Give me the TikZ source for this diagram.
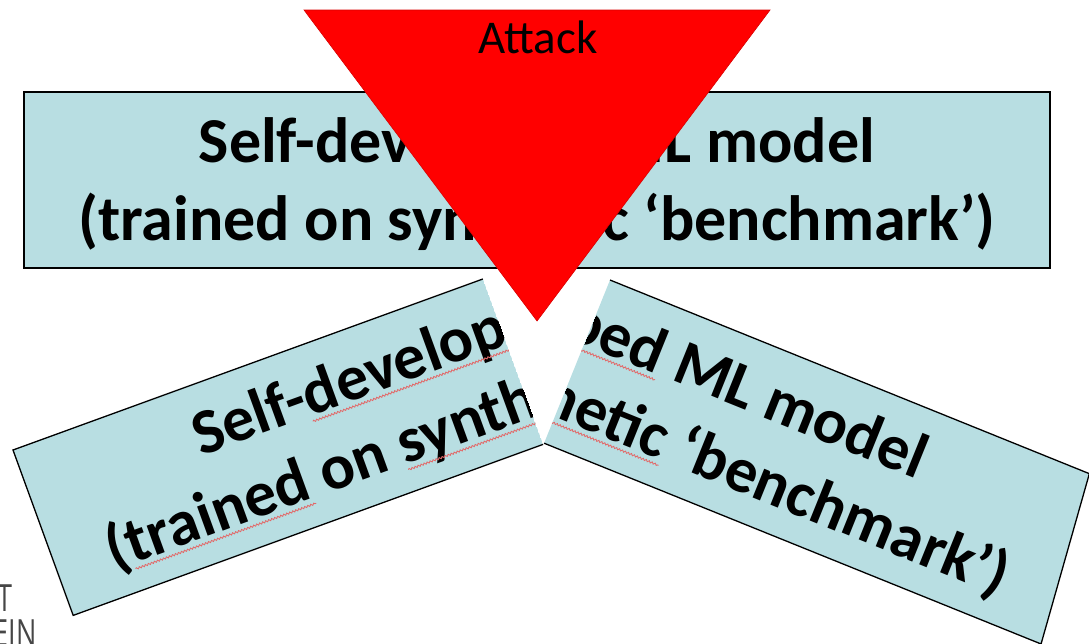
\documentclass[tikz,border=0pt]{standalone}
\usepackage{fontspec}
\newfontfamily\carlito{Carlito}
\newfontfamily\logofont[FakeStretch=0.72]{Open Sans}
\usetikzlibrary{decorations.pathmorphing}

\definecolor{boxblue}{RGB}{184,222,226}
\definecolor{attackred}{RGB}{255,0,0}
\definecolor{spellred}{RGB}{226,104,104}
\definecolor{logogray}{RGB}{70,70,70}

\tikzset{
  modelfill/.style={fill=boxblue},
  boxedge/.style={draw=black, line width=1.3pt, line join=miter},
  boxtext/.style={font=\carlito\bfseries\fontsize{64}{70}\selectfont, inner sep=0pt, anchor=base},
  measure/.style={font=\carlito\bfseries\fontsize{64}{70}\selectfont, inner sep=0pt,
                  anchor=base west, text depth=5.5pt},
  spellmark/.style={draw=spellred, line width=0.85pt, decorate,
                    decoration={snake, amplitude=0.9pt, segment length=3.2pt}},
  attackshape/.style={fill=attackred, draw=attackred!85!black, line width=0.6pt, line join=miter},
  attacklabel/.style={font=\carlito\fontsize{47}{50}\selectfont, inner sep=0pt, anchor=base},
  logo/.style={font=\logofont\fontsize{37.5}{40}\selectfont, text=logogray, inner sep=0pt, anchor=base east}
}

% Caption of the model box, in box coordinates (1026 x 176, y downwards).
% #1 = 1 adds the wavy spelling marks under the flagged words.
\newcommand\modelcaption[1]{%
  \node[boxtext] (lineA) at (513,70) {Self-developed ML model};
  \node[boxtext] (lineB) at (513,148) {(trained on synthetic ‘benchmark’)};
  \ifnum#1=1
    \node[measure] (selfw) at (lineA.base west) {\phantom{Self-}};
    \node[measure] (devw)  at (selfw.base east) {\phantom{developed}};
    \node[measure] (parw)  at (lineB.base west) {\phantom{(}};
    \node[measure] (trw)   at (parw.base east)  {\phantom{trained}};
    \node[measure] (onw)   at (trw.base east)   {\phantom{\ on\ }};
    \node[measure] (synw)  at (onw.base east)   {\phantom{synthetic}};
    \draw[spellmark] (devw.south west) -- (devw.south east);
    \draw[spellmark] (trw.south west) -- (trw.south east);
    \draw[spellmark] (synw.south west) -- (synw.south east);
  \fi
}

\begin{document}
\begin{tikzpicture}[x=1pt, y=-1pt]
\useasboundingbox (0,0) rectangle (1089,643);

% intact model box
\begin{scope}[shift={(24,92)}]
  \path[modelfill, boxedge] (0,0) rectangle (1026,176);
  \modelcaption{0}
\end{scope}

% left fragment of the broken box
\begin{scope}[shift={(13,450)}, rotate=20, transform shape]
  \begin{scope}
    \clip (0,0) rectangle (500,176);
    \fill[boxblue] (0,0) rectangle (500,176);
    \modelcaption{1}
  \end{scope}
  \draw[boxedge] (500,0) -- (0,0) -- (0,176) -- (500,176);
\end{scope}

% right fragment of the broken box
\begin{scope}[shift={(610,280)}, rotate=-22, transform shape]
  \begin{scope}[shift={(-492,0)}]
    \begin{scope}
      \clip (492,0) -- (1009,0) -- (1028,176) -- (492,176) -- cycle;
      \fill[boxblue] (492,0) -- (1009,0) -- (1028,176) -- (492,176) -- cycle;
      \modelcaption{1}
    \end{scope}
    \draw[boxedge] (492,0) -- (1009,0) -- (1028,176) -- (492,176);
  \end{scope}
\end{scope}

% attack wedge
\coordinate (wedgeL) at (304,10);
\coordinate (wedgeR) at (770,10);
\coordinate (wedgeTip) at (537,321);
\path[attackshape] (wedgeL) -- (wedgeR) -- (wedgeTip) -- cycle;
\node[attacklabel] (attack) at (538,53) {Attack};

% logo lettering at the lower left corner
\node[logo] (logoT) at (13,611) {T};
\node[logo] (logoE) at (37,646) {EIN};
\end{tikzpicture}
\end{document}
